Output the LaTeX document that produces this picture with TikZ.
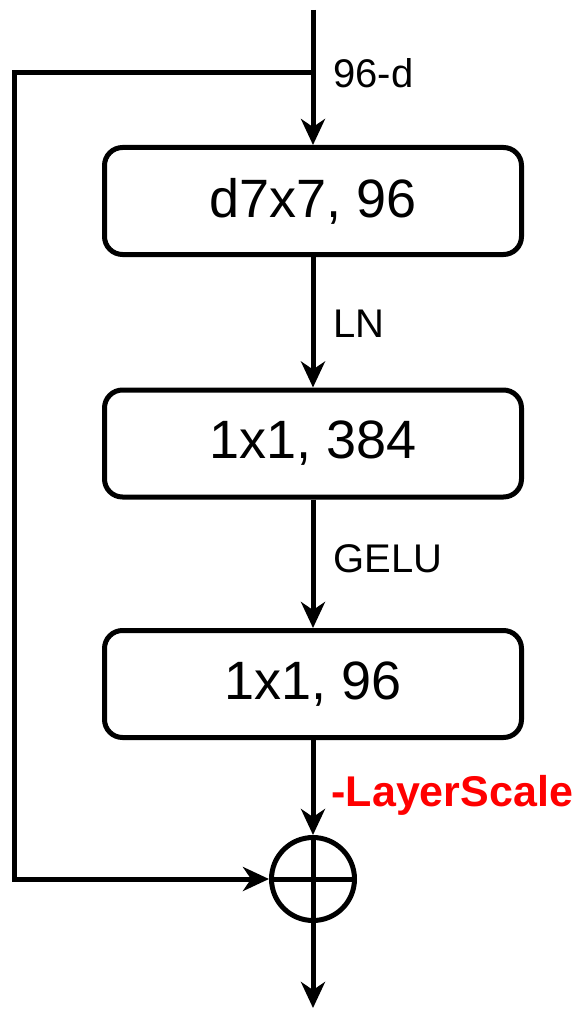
\documentclass[tikz,border=0pt]{standalone}
\usepackage{fontspec}
\setmainfont{Liberation Sans}
\usetikzlibrary{arrows.meta}
\begin{document}
\begin{tikzpicture}[x=1pt,y=-1pt,
  line width=5pt,
  blk/.style={draw, rounded corners=18pt, minimum width=417pt, minimum height=107pt,
              inner sep=0pt, font=\fontsize{54}{60}\selectfont},
  lbl/.style={anchor=base west, inner sep=0pt, font=\fontsize{40}{44}\selectfont},
  arr/.style={-{Stealth[length=26pt,width=24pt,inset=8pt]}}]
\useasboundingbox (0,0) rectangle (578,1011);

% blocks
\node[blk] (dw)  at (313,201)   {d7x7, 96};
\node[blk] (pw1) at (313,443.5) {1x1, 384};
\node[blk] (pw2) at (313,684)   {1x1, 96};
\node[draw, circle, minimum size=83pt, inner sep=0pt] (plus) at (313,879) {};
\draw (plus.north) -- (plus.south) (plus.west) -- (plus.east);

% free ends and skip corners
\coordinate (in)  at (313,10);
\coordinate (out) at (313,1008);
\coordinate (br)  at (313,73);
\coordinate (tl)  at (14,73);
\coordinate (bl)  at (14,879);

% main path
\draw[arr] (in) -- (dw.north);
\draw[arr] (dw.south) -- (pw1.north);
\draw[arr] (pw1.south) -- (pw2.north);
\draw[arr] (pw2.south) -- (plus.north);
\draw[arr] (plus.south) -- (out);

% shortcut
\draw[arr] (br) -- (tl) -- (bl) -- (plus.west);

% labels
\node[lbl] (l0) at (331,88)  {96-d};
\node[lbl] (l1) at (331,337) {LN};
\node[lbl] (l2) at (331,572) {GELU};
\node[lbl, text=red, font=\fontsize{43}{48}\selectfont\bfseries] (l3) at (329,806) {-LayerScale};
\end{tikzpicture}
\end{document}
